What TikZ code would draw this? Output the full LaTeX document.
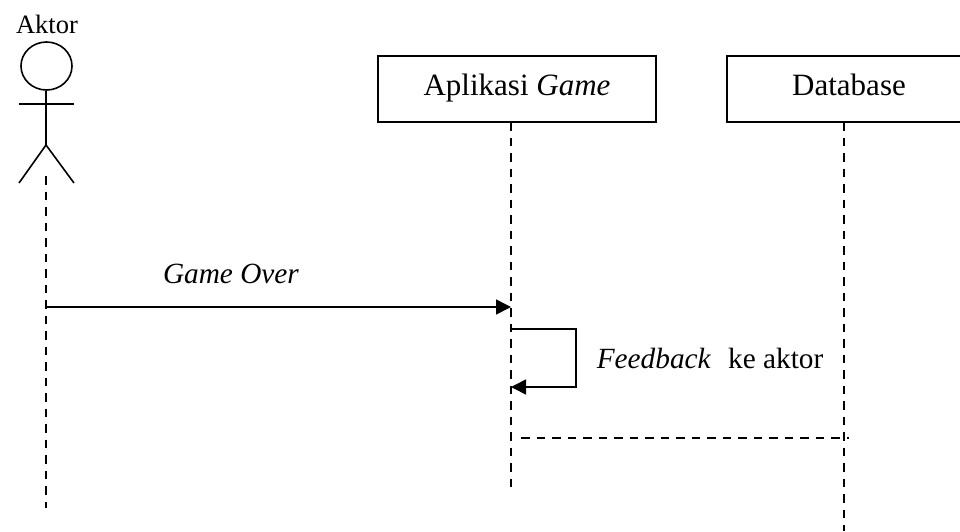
\documentclass[tikz,border=0pt]{standalone}
\usepackage{fontspec}
\setmainfont{Liberation Serif}
\usetikzlibrary{shapes.geometric,arrows.meta}
\begin{document}
\begin{tikzpicture}[x=1pt,y=-1pt,line width=1.6pt]
  \tikzstyle{every node}=[inner sep=0pt]
  \tikzstyle{lifebox}=[draw, rectangle, minimum width=278pt, minimum height=66pt, text height=21pt, text depth=8pt, font=\fontsize{31}{36}\selectfont]
  \tikzstyle{lifeline}=[dashed, dash pattern=on 8.5pt off 7pt]
  \tikzstyle{message}=[-{Triangle[length=15pt,width=15pt]}]
  \tikzstyle{msglabel}=[font=\fontsize{29.3}{34}\selectfont]

  \useasboundingbox (0,0) rectangle (960,531);

  % aktor
  \node[font=\fontsize{26.5}{30}\selectfont] (aktorlabel) at (47,24) {Aktor};
  \node[draw, ellipse, minimum width=51pt, minimum height=48pt] (head) at (46.5,66) {};
  \coordinate (hip) at (46,145);
  \coordinate (armL) at (19,104);
  \coordinate (armR) at (74,104);
  \coordinate (legL) at (19,183);
  \coordinate (legR) at (74,183);
  \draw (head.south -| hip) -- (hip);
  \draw (armL) -- (armR);
  \draw (legL) -- (hip) -- (legR);

  % boxes
  \node[lifebox] (game) at (517,89) {Aplikasi \textit{Game}};
  \node[lifebox, minimum width=244pt] (db) at (849,89) {Database};

  % lifelines
  \coordinate (aktortop) at (46,176);
  \coordinate (aktorend) at (46,508);
  \coordinate (gametop) at (511,122);
  \coordinate (gameend) at (511,493);
  \coordinate (dbtop) at (844,122);
  \coordinate (dbend) at (844,531);
  \draw[lifeline] (aktortop) -- (aktorend);
  \draw[lifeline] (gametop) -- (gameend);
  \draw[lifeline] (dbtop) -- (dbend);

  % messages
  \coordinate (over1) at (46,307);
  \coordinate (over2) at (511,307);
  \draw[message] (over1) -- (over2);
  \node[msglabel] (overlabel) at (231,274) {\textit{Game Over}};

  \coordinate (fb1) at (511,329);
  \coordinate (fb2) at (576,329);
  \coordinate (fb3) at (576,387);
  \coordinate (fb4) at (511,387);
  \draw[message] (fb1) -- (fb2) -- (fb3) -- (fb4);
  \node[msglabel, anchor=west] (fblabel) at (596,358) {\textit{Feedback}\,\, ke aktor};

  \coordinate (back1) at (521,438);
  \coordinate (back2) at (849,438);
  \draw[lifeline] (back1) -- (back2);
\end{tikzpicture}
\end{document}
